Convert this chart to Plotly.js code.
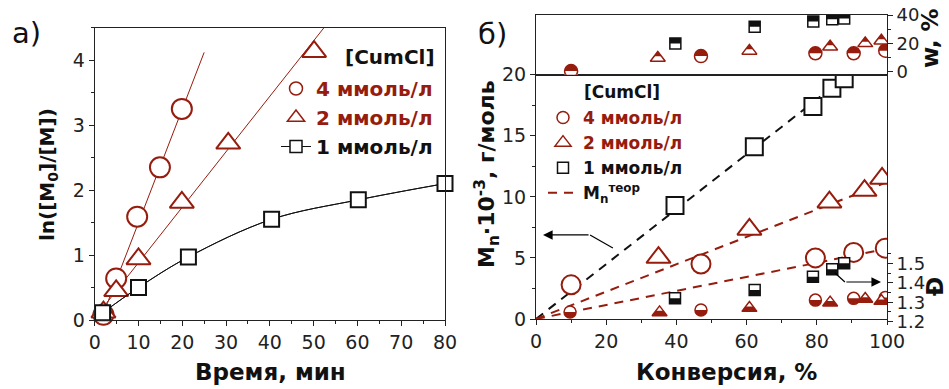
<!DOCTYPE html>
<html><head><meta charset="utf-8">
<script src="https://cdn.plot.ly/plotly-3.0.1.min.js"></script>
<style>html,body{margin:0;padding:0;background:#fff}#chart{width:949px;height:389px}</style>
</head><body><div id="chart"></div>
<script>
// ---------- Panel а): ln([M0]/[M]) vs time ----------
const timeCirc = [2, 4.9, 9.7, 14.9, 19.9];
const lnCirc   = [0.08, 0.64, 1.59, 2.35, 3.25];
const timeTri  = [2, 4.9, 10, 19.9, 30.5, 50.1];
const lnTri    = [0.12, 0.45, 0.94, 1.81, 2.72, 4.13];
const timeSq   = [1.8, 10, 21.4, 40.4, 60.2, 80];
const lnSq     = [0.11, 0.5, 0.97, 1.55, 1.85, 2.1];
const fitCircT = [2, 25];
const fitCircY = [0.1, 4.12];
const fitTriT  = [2, 54];
const fitTriY  = [0.2, 4.64];

// ---------- Panel б): Mn vs conversion ----------
const convCirc = [10, 47, 79.6, 90.5, 99.5];
const mnCirc   = [2.8, 4.5, 5.0, 5.45, 5.8];
const convTri  = [34.9, 60.8, 83.6, 93.6, 98.6];
const mnTri    = [5.03, 7.33, 9.56, 10.51, 11.51];
const convSq   = [39.6, 62.2, 78.9, 84.3, 87.8];
const mnSq     = [9.3, 14.1, 17.4, 18.9, 19.66];
// theoretical Mn lines
const theoConv1 = [0, 89];  const theoMn1 = [0, 20];
const theoConv2 = [0, 100]; const theoMn2 = [0, 11.2];
const theoConv4 = [0, 100]; const theoMn4 = [0, 5.75];
// w, % (upper panel)
const wConvCirc = [10, 47, 79.6, 90.5, 99.5];
const wCirc     = [0.5, 11, 13, 13, 14.8];
const wConvTri  = [34.7, 60.8, 83.8, 93.8, 98.4];
const wTri      = [9.7, 14.7, 17.6, 20, 21.8];
const wConvSq   = [39.7, 62.3, 79, 84.4, 87.8];
const wSq       = [19.9, 31.7, 35.5, 37, 37.5];
// dispersity Đ
const dConvCirc = [9.7, 47, 79.6, 90.5, 99.5];
const dCirc     = [1.25, 1.26, 1.311, 1.32, 1.324];
const dConvTri  = [35.2, 60.8, 83.8, 93.8, 98.4];
const dTri      = [1.248, 1.27, 1.298, 1.317, 1.306];
const dConvSq   = [39.6, 62.3, 78.9, 84.4, 87.8];
const dSq       = [1.32, 1.363, 1.431, 1.469, 1.50];

const RED = '#961c0e';
const BLK = '#111111';
const FONT = 'DejaVu Sans';
const redName = t => '<span style="color:' + RED + '">' + t + '</span>';

const traces = [];
// ---- panel a: legend carriers (small markers, drawn underneath the real ones)
traces.push({x: timeCirc, y: lnCirc, xaxis:'x', yaxis:'y', mode:'markers', cliponaxis:false,
  marker:{symbol:'circle', size:13, color:'white', line:{color:RED, width:1.5}}, name:redName('4 ммоль/л'), legend:'legend'});
traces.push({x: timeTri, y: lnTri, xaxis:'x', yaxis:'y', mode:'markers', cliponaxis:false,
  marker:{symbol:'triangle-up', size:15, color:'white', line:{color:RED, width:1.5}}, name:redName('2 ммоль/л'), legend:'legend'});
traces.push({x: timeSq, y: lnSq, xaxis:'x', yaxis:'y', mode:'lines+markers', cliponaxis:false,
  line:{color:BLK, width:1, shape:'spline'},
  marker:{symbol:'square', size:12, color:'white', line:{color:BLK, width:1.5}}, name:'1 ммоль/л', legend:'legend'});
// ---- panel a: plotted series
traces.push({x: fitCircT, y: fitCircY, xaxis:'x', yaxis:'y', mode:'lines', line:{color:RED, width:1}, showlegend:false});
traces.push({x: fitTriT, y: fitTriY, xaxis:'x', yaxis:'y', mode:'lines', line:{color:RED, width:1}, showlegend:false});
traces.push({x: timeCirc, y: lnCirc, xaxis:'x', yaxis:'y', mode:'markers', cliponaxis:false, showlegend:false,
  marker:{symbol:'circle', size:20, color:'white', line:{color:RED, width:2}}});
traces.push({x: timeTri, y: lnTri, xaxis:'x', yaxis:'y', mode:'markers', cliponaxis:false, showlegend:false,
  marker:{symbol:'triangle-up', size:21, color:'white', line:{color:RED, width:2}}});
traces.push({x: timeSq, y: lnSq, xaxis:'x', yaxis:'y', mode:'lines+markers', cliponaxis:false, showlegend:false,
  line:{color:BLK, width:1, shape:'spline'},
  marker:{symbol:'square', size:15, color:'white', line:{color:BLK, width:2}}});

// ---- panel b: theoretical lines
traces.push({x: theoConv1, y: theoMn1, xaxis:'x2', yaxis:'y3', mode:'lines', line:{color:BLK, width:2, dash:'9px,7px'}, showlegend:false});
traces.push({x: theoConv2, y: theoMn2, xaxis:'x2', yaxis:'y3', mode:'lines', line:{color:RED, width:2, dash:'9px,7px'}, showlegend:false});
// ---- panel b: legend carriers
traces.push({x: convCirc, y: mnCirc, xaxis:'x2', yaxis:'y3', mode:'markers',
  marker:{symbol:'circle', size:12, color:'white', line:{color:RED, width:1.5}}, name:redName('4 ммоль/л'), legend:'legend2'});
traces.push({x: convTri, y: mnTri, xaxis:'x2', yaxis:'y3', mode:'markers',
  marker:{symbol:'triangle-up', size:14, color:'white', line:{color:RED, width:1.5}}, name:redName('2 ммоль/л'), legend:'legend2'});
traces.push({x: convSq, y: mnSq, xaxis:'x2', yaxis:'y3', mode:'markers',
  marker:{symbol:'square', size:11, color:'white', line:{color:BLK, width:1.5}}, name:'1 ммоль/л', legend:'legend2'});
traces.push({x: theoConv4, y: theoMn4, xaxis:'x2', yaxis:'y3', mode:'lines', line:{color:RED, width:2, dash:'9px,7px'},
  name:'M<sub>n</sub><sup>теор</sup>', legend:'legend2'});
// ---- panel b: Mn series
traces.push({x: convCirc, y: mnCirc, xaxis:'x2', yaxis:'y3', mode:'markers', showlegend:false,
  marker:{symbol:'circle', size:19, color:'white', line:{color:RED, width:2}}});
traces.push({x: convTri, y: mnTri, xaxis:'x2', yaxis:'y3', mode:'markers', showlegend:false,
  marker:{symbol:'triangle-up', size:21, color:'white', line:{color:RED, width:2}}});
traces.push({x: convSq, y: mnSq, xaxis:'x2', yaxis:'y3', mode:'markers', showlegend:false,
  marker:{symbol:'square', size:17, color:'white', line:{color:BLK, width:2}}});

// half-filled marker builders (layers of library markers at the same data points)
function halfCircle(x, y, xa, ya, color, s, top) {
  return [
    {x:x, y:y, xaxis:xa, yaxis:ya, mode:'markers', showlegend:false, marker:{symbol:'circle', size:s, color:color, line:{width:0}}},
    {x:x, y:y, xaxis:xa, yaxis:ya, mode:'markers', showlegend:false, marker:{symbol:'line-ew', size:s/1.4, angle: top?0:180, standoff:s/4, color:'white', line:{color:'white', width:s/2}}},
    {x:x, y:y, xaxis:xa, yaxis:ya, mode:'markers', showlegend:false, marker:{symbol:'circle-open', size:s, color:color, line:{color:color, width:1.5}}}
  ];
}
function halfSquare(x, y, xa, ya, color, s, top) {
  return [
    {x:x, y:y, xaxis:xa, yaxis:ya, mode:'markers', showlegend:false, marker:{symbol:'square', size:s, color:'white', line:{color:color, width:1.5}}},
    {x:x, y:y, xaxis:xa, yaxis:ya, mode:'markers', showlegend:false, marker:{symbol:'line-ew', size:s/1.4, angle: top?180:0, standoff:s/4, color:color, line:{color:color, width:s/2}}}
  ];
}
function halfTriangle(x, y, xa, ya, color, s, top) {
  if (top) {
    return [
      {x:x, y:y, xaxis:xa, yaxis:ya, mode:'markers', showlegend:false, marker:{symbol:'triangle-up', size:s, color:'white', line:{color:color, width:1.5}}},
      {x:x, y:y, xaxis:xa, yaxis:ya, mode:'markers', showlegend:false, marker:{symbol:'triangle-down', size:s/2, angle:180, standoff:s/4, color:color, line:{width:0}}}
    ];
  }
  return [
    {x:x, y:y, xaxis:xa, yaxis:ya, mode:'markers', showlegend:false, marker:{symbol:'triangle-up', size:s, color:color, line:{width:0}}},
    {x:x, y:y, xaxis:xa, yaxis:ya, mode:'markers', showlegend:false, marker:{symbol:'triangle-down', size:s/2, angle:180, standoff:s/4, color:'white', line:{width:0}}},
    {x:x, y:y, xaxis:xa, yaxis:ya, mode:'markers', showlegend:false, marker:{symbol:'triangle-up-open', size:s, color:color, line:{color:color, width:1.5}}}
  ];
}
// w, % (top half filled)
traces.push(...halfCircle(wConvCirc, wCirc, 'x3', 'y4', RED, 13, true));
traces.push(...halfTriangle(wConvTri, wTri, 'x3', 'y4', RED, 13, true));
traces.push(...halfSquare(wConvSq, wSq, 'x3', 'y4', BLK, 11, true));
// Đ (bottom half filled)
traces.push(...halfCircle(dConvCirc, dCirc, 'x2', 'y5', RED, 12, false));
traces.push(...halfTriangle(dConvTri, dTri, 'x2', 'y5', RED, 13, false));
traces.push(...halfSquare(dConvSq, dSq, 'x2', 'y5', BLK, 11, false));

const tickFont = {family: FONT, size: 19, color: '#222'};
const axBase = {showline:true, linecolor:'#222', linewidth:1, showgrid:false, zeroline:false,
  ticks:'outside', ticklen:5, tickwidth:1, tickcolor:'#222', tickfont:tickFont, fixedrange:true};

const W = 949, H = 389;
const px = v => v / W;
const py = v => 1 - v / H;

const layout = {
  width: W, height: H, margin:{l:0, r:0, t:0, b:0}, paper_bgcolor:'white', plot_bgcolor:'rgba(0,0,0,0)',
  font:{family: FONT, color:'#111'}, hovermode:false,
  xaxis: Object.assign({}, axBase, {domain:[px(94.7), px(445)], range:[0, 80], anchor:'y', mirror:true,
    tickmode:'linear', tick0:0, dtick:10, minor:{tick0:0, dtick:5, ticks:'outside', ticklen:3, tickcolor:'#222'}}),
  yaxis: Object.assign({}, axBase, {domain:[py(320), py(27.7)], range:[0, 4.5], anchor:'x', mirror:true,
    tickmode:'linear', tick0:0, dtick:1, minor:{tick0:0, dtick:0.5, ticks:'outside', ticklen:3, tickcolor:'#222'}}),
  xaxis2: Object.assign({}, axBase, {domain:[px(536), px(887)], range:[0, 100], anchor:'y3', mirror:true,
    tickmode:'linear', tick0:0, dtick:20, minor:{tick0:0, dtick:10, ticks:'outside', ticklen:3, tickcolor:'#222'}}),
  xaxis3: Object.assign({}, axBase, {domain:[px(536), px(887)], range:[0, 100], anchor:'y4', mirror:true,
    showticklabels:false, ticks:''}),
  yaxis3: Object.assign({}, axBase, {domain:[py(319), py(74.7)], range:[0, 20], anchor:'x2', mirror:true,
    tickmode:'linear', tick0:0, dtick:5, minor:{tick0:0, dtick:2.5, ticks:'outside', ticklen:3, tickcolor:'#222'}}),
  yaxis4: Object.assign({}, axBase, {domain:[py(74.7), py(15)], range:[-2.1, 40], anchor:'x3', side:'right', mirror:true,
    tickmode:'array', tickvals:[0, 20, 40], tickfont:{family:FONT, size:18, color:'#222'},
    minor:{tickmode:'array', tickvals:[10, 30], ticks:'outside', ticklen:3, tickcolor:'#222'}}),
  yaxis5: Object.assign({}, axBase, {domain:[py(322.5), py(74.7)], range:[1.196, 2.469], anchor:'x2', side:'right',
    tickmode:'array', tickvals:[1.2, 1.3, 1.4, 1.5], ticktext:['1.2','1.3','1.4','1.5'], tickfont:{family:FONT, size:18, color:'#222'},
    minor:{tickmode:'array', tickvals:[1.25, 1.35, 1.45, 1.55], ticks:'outside', ticklen:3, tickcolor:'#222'}}),
  legend: {x: px(276), y: py(69), xanchor:'left', yanchor:'top', bgcolor:'rgba(0,0,0,0)', borderwidth:0,
    font:{family:FONT, size:20, weight:'bold', color:BLK}, itemsizing:'trace', tracegroupgap:0, itemwidth:30},
  legend2: {x: px(543), y: py(100), xanchor:'left', yanchor:'top', bgcolor:'rgba(0,0,0,0)', borderwidth:0,
    font:{family:FONT, size:17, weight:'bold', color:BLK}, itemsizing:'trace', tracegroupgap:0, itemwidth:30},
  shapes: [
    {type:'line', xref:'x2', yref:'y3', x0:15.4, y0:6.88, x1:21.9, y1:5.81, line:{color:'#000', width:1.2}},
    {type:'line', xref:'x2', yref:'y3', x0:88.0, y0:3.03, x1:85.2, y1:3.77, line:{color:'#000', width:1.2}}
  ],
  annotations: [
    {xref:'x2', yref:'y3', x:2.0, y:6.88, axref:'x2', ayref:'y3', ax:15.4, ay:6.88, text:'', showarrow:true, arrowhead:2, arrowsize:1.6, arrowwidth:1.2, arrowcolor:'#000'},
    {xref:'x2', yref:'y3', x:98.3, y:3.03, axref:'x2', ayref:'y3', ax:88.0, ay:3.03, text:'', showarrow:true, arrowhead:2, arrowsize:1.6, arrowwidth:1.2, arrowcolor:'#000'},
    {xref:'paper', yref:'paper', x:px(26), y:py(33), text:'а)', showarrow:false, xanchor:'center', yanchor:'middle', font:{family:FONT, size:29, color:'#111'}},
    {xref:'paper', yref:'paper', x:px(492), y:py(34), text:'б)', showarrow:false, xanchor:'center', yanchor:'middle', font:{family:FONT, size:29, color:'#111'}},
    {xref:'paper', yref:'paper', x:px(270), y:py(372), text:'Время, мин', showarrow:false, xanchor:'center', yanchor:'middle', font:{family:FONT, size:23, weight:'bold', color:'#111'}},
    {xref:'paper', yref:'paper', x:px(726), y:py(372), text:'Конверсия, %', showarrow:false, xanchor:'center', yanchor:'middle', font:{family:FONT, size:23, weight:'bold', color:'#111'}},
    {xref:'paper', yref:'paper', x:px(48), y:py(175), text:'ln([M<sub>0</sub>]/[M])', textangle:-90, showarrow:false, xanchor:'center', yanchor:'middle', font:{family:FONT, size:20, weight:'bold', color:'#111'}},
    {xref:'paper', yref:'paper', x:px(487), y:py(174), text:'M<sub>n</sub>·10<sup>-3</sup>, г/моль', textangle:-90, showarrow:false, xanchor:'center', yanchor:'middle', font:{family:FONT, size:22, weight:'bold', color:'#111'}},
    {xref:'paper', yref:'paper', x:px(930), y:py(38), text:'w, %', textangle:-90, showarrow:false, xanchor:'center', yanchor:'middle', font:{family:FONT, size:23, weight:'bold', color:'#111'}},
    {xref:'paper', yref:'paper', x:px(935), y:py(287), text:'Đ', textangle:-90, showarrow:false, xanchor:'center', yanchor:'middle', font:{family:FONT, size:23, weight:'bold', color:'#111'}},
    {xref:'paper', yref:'paper', x:px(437), y:py(57), text:'[CumCl]', showarrow:false, xanchor:'right', yanchor:'middle', font:{family:FONT, size:20, weight:'bold', color:'#111'}},
    {xref:'paper', yref:'paper', x:px(582), y:py(92), text:'[CumCl]', showarrow:false, xanchor:'left', yanchor:'middle', font:{family:FONT, size:17, weight:'bold', color:'#111'}}
  ]
};

Plotly.newPlot('chart', traces, layout, {staticPlot:true, displayModeBar:false});
</script>
</body></html>
